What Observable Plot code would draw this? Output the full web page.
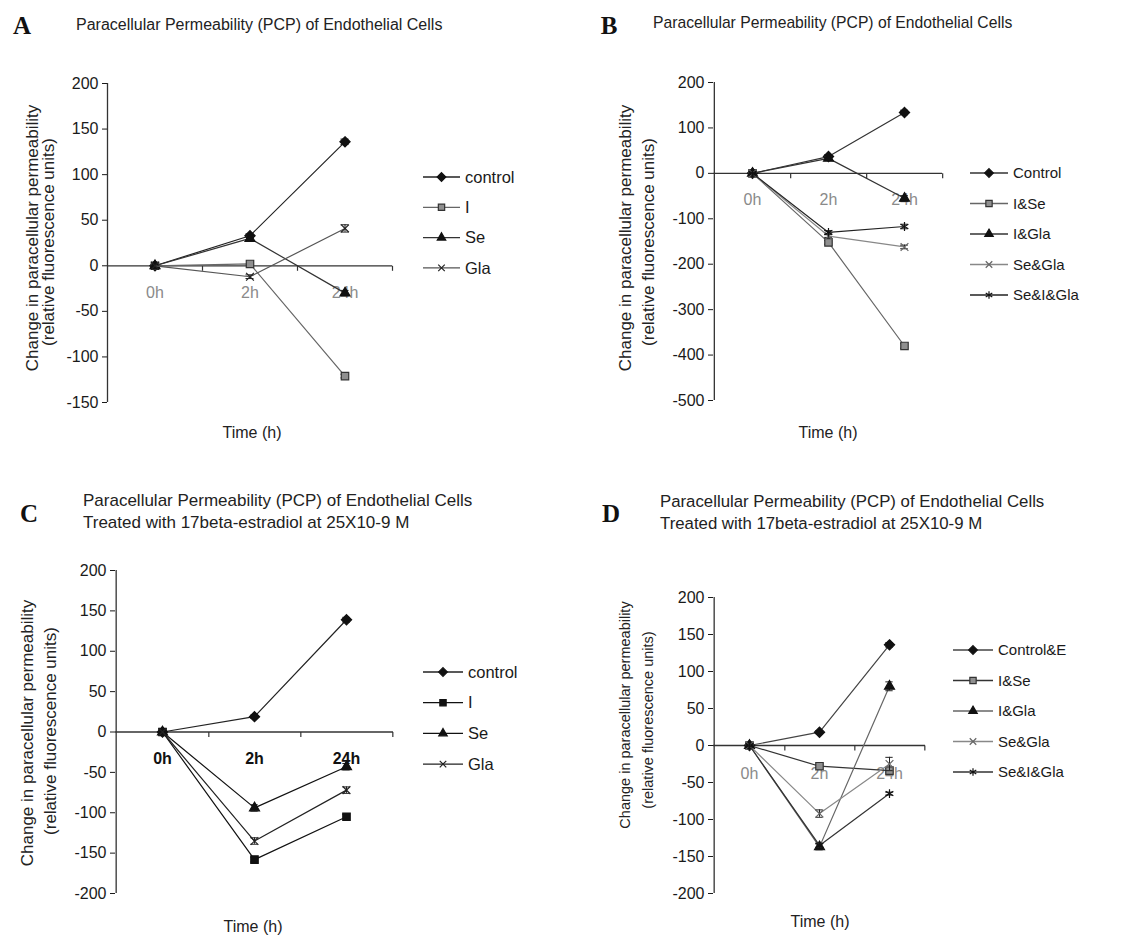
<!DOCTYPE html>
<html><head><meta charset="utf-8">
<script src="https://cdn.jsdelivr.net/npm/d3@7"></script>
<script src="https://cdn.jsdelivr.net/npm/@observablehq/plot@0.6"></script>
<style>
body{margin:0;background:#fff;font-family:"Liberation Sans",Arial,sans-serif;color:#222;}
#page{position:relative;width:1127px;height:935px;overflow:hidden;background:#fff;}
.abs{position:absolute;white-space:nowrap;line-height:1;}
.letter{font-family:"Liberation Serif","Times New Roman",serif;font-weight:bold;font-size:25px;color:#111;}
.cc{transform:translate(-50%,-50%);}
.lc{transform:translate(0,-50%);}
.rot{transform:translate(-50%,-50%) rotate(-90deg);}
</style></head>
<body><div id="page"></div>
<script>
// ---------- data ----------
const times = ["0h", "2h", "24h"];

// Panel A
const seriesA = ["control", "I", "Se", "Gla"];
const aControl = [0, 33, 136];
const aI = [0, 2, -121];
const aSe = [0, 30, -30];
const aGla = [0, -12, 41];
const errA = [[0, 2, 3], [0, 0, 2], [0, 2, 3], [0, 2, 4]];
const ticksA = [-150, -100, -50, 0, 50, 100, 150, 200];

// Panel B
const seriesB = ["Control", "I&Se", "I&Gla", "Se&Gla", "Se&I&Gla"];
const bControl = [0, 37, 134];
const bISe = [0, -152, -380];
const bIGla = [0, 33, -55];
const bSeGla = [0, -138, -162];
const bSeIGla = [0, -130, -117];
const errB = [[0, 4, 5], [0, 4, 5], [0, 4, 6], [0, 3, 4], [0, 4, 5]];
const ticksB = [-500, -400, -300, -200, -100, 0, 100, 200];

// Panel C
const seriesC = ["control", "I", "Se", "Gla"];
const cControl = [0, 19, 139];
const cI = [0, -158, -105];
const cSe = [0, -94, -43];
const cGla = [0, -135, -72];
const errC = [[0, 2, 3], [0, 3, 3], [0, 4, 4], [0, 4, 4]];
const ticksC = [-200, -150, -100, -50, 0, 50, 100, 150, 200];

// Panel D
const seriesD = ["Control&E", "I&Se", "I&Gla", "Se&Gla", "Se&I&Gla"];
const dControl = [0, 18, 136];
const dISe = [0, -28, -34];
const dIGla = [0, -137, 80];
const dSeGla = [0, -92, -25];
const dSeIGla = [0, -135, -65];
const errD = [[0, 2, 3], [0, 2, 3], [0, 4, 6], [0, 5, 9], [0, 3, 2]];
const ticksD = [-200, -150, -100, -50, 0, 50, 100, 150, 200];

const titleMain = "Paracellular Permeability (PCP) of Endothelial Cells";
const titleSub = "Treated with 17beta-estradiol at 25X10-9 M";
const yLabel1 = "Change in paracellular permeability";
const yLabel2 = "(relative fluorescence units)";
const xLabel = "Time (h)";

// ---------- styles ----------
const styleDiamond = {symbol: "diamond2", r: 4.6, fill: "#111", stroke: "#111"};
const styleSquareGray = {symbol: "square", r: 4.2, fill: "#8f8f8f", stroke: "#333"};
const styleSquareBlack = {symbol: "square", r: 4.2, fill: "#111", stroke: "#111"};
const styleTri = {symbol: "triangle", r: 3.7, fill: "#111", stroke: "#111"};
const styleTimes = {symbol: "times", r: 3.6, fill: "none", stroke: "#222"};
const styleTimesGray = {symbol: "times", r: 3.6, fill: "none", stroke: "#666"};
const styleStar = {symbol: "asterisk", r: 4.2, fill: "none", stroke: "#111"};

const symbolMap = {
  diamond2: d3.symbolDiamond2, square: d3.symbolSquare, triangle: d3.symbolTriangle,
  times: d3.symbolTimes, asterisk: d3.symbolAsterisk
};

const panels = [
  {letter: "A", letterPos: [22, 25], title: [titleMain], titlePos: [76, 25], titleSize: 16,
   series: seriesA, values: [aControl, aI, aSe, aGla], errs: errA, ticks: ticksA,
   lineColors: ["#222", "#666", "#333", "#555"],
   marks: [styleDiamond, styleSquareGray, styleTri, styleTimes],
   rect: [107, 392, 83, 402], xLabelColor: "#8a8a8a", xLabelWeight: "normal", xdy: 27,
   yl: [[32, 238], [48, 242]], ylSize: 17, time: [252, 433],
   legend: {x: 423, y: 177, sp: 30.3, len: 37, size: 16.5}},
  {letter: "B", letterPos: [609, 25], title: [titleMain], titlePos: [653, 23], titleSize: 15.7,
   series: seriesB, values: [bControl, bISe, bIGla, bSeGla, bSeIGla], errs: errB, ticks: ticksB,
   lineColors: ["#333", "#666", "#333", "#888", "#222"],
   marks: [styleDiamond, styleSquareGray, styleTri, styleTimesGray, styleStar],
   rect: [713, 942, 82, 400], xLabelColor: "#8a8a8a", xLabelWeight: "normal", xdy: 27,
   yl: [[625, 238], [648, 242]], ylSize: 17, time: [828, 433],
   legend: {x: 970, y: 173, sp: 30.5, len: 38, size: 15}},
  {letter: "C", letterPos: [29, 513], title: [titleMain, titleSub], titlePos: [83, 500], titleSize: 17,
   series: seriesC, values: [cControl, cI, cSe, cGla], errs: errC, ticks: ticksC,
   lineColors: ["#222", "#111", "#111", "#222"],
   marks: [styleDiamond, styleSquareBlack, styleTri, styleTimes],
   rect: [115, 393, 570, 893], xLabelColor: "#111", xLabelWeight: "bold", xdy: 27,
   yl: [[27, 733], [50, 731]], ylSize: 17, time: [253, 927],
   legend: {x: 423, y: 672, sp: 30.7, len: 40, size: 16.5}},
  {letter: "D", letterPos: [611, 513], title: [titleMain, titleSub], titlePos: [660, 502], titleSize: 16.8,
   series: seriesD, values: [dControl, dISe, dIGla, dSeGla, dSeIGla], errs: errD, ticks: ticksD,
   lineColors: ["#444", "#333", "#666", "#888", "#333"],
   marks: [styleDiamond, styleSquareGray, styleTri, styleTimesGray, styleStar],
   rect: [713, 925, 597, 893], xLabelColor: "#8a8a8a", xLabelWeight: "normal", xdy: 28,
   yl: [[625, 715], [648, 720]], ylSize: 14.5, time: [820, 922],
   legend: {x: 953, y: 650, sp: 30.5, len: 40, size: 15}}
];

const page = document.getElementById("page");
function addDiv(text, cls, x, y, css) {
  const d = document.createElement("div");
  d.className = "abs " + cls;
  d.textContent = text;
  d.style.left = x + "px";
  d.style.top = y + "px";
  Object.assign(d.style, css || {});
  page.appendChild(d);
  return d;
}

// custom symbol: small downward tick
const tickDown = {draw(ctx, size) { const l = Math.sqrt(size / Math.PI); ctx.moveTo(0, 0); ctx.lineTo(0, l); }};

for (const p of panels) {
  const [x0, x1, y0, y1] = p.rect;
  const mL = 60, mR = 12, mT = 12, mB = 45;
  const W = x1 - x0 + mL + mR, H = y1 - y0 + mT + mB;
  const bw = (x1 - x0) / times.length;
  const yMin = d3.min(p.ticks), yMax = d3.max(p.ticks);
  const marks = [
    Plot.ruleX([times[0]], {dx: -bw / 2, y1: yMin, y2: yMax, stroke: "#333", strokeWidth: 1.3}),
    Plot.ruleY([0], {stroke: "#333", strokeWidth: 1.3}),
    Plot.dot(times, {x: d => d, y: () => 0, dx: bw / 2, symbol: tickDown, r: 5, fill: "none", stroke: "#333", strokeWidth: 1.2}),
    Plot.text(times, {x: d => d, y: () => 0, dy: p.xdy, text: d => d, fill: p.xLabelColor, fontSize: 16, fontWeight: p.xLabelWeight})
  ];
  p.series.forEach((s, i) => {
    const rows = p.values[i].map((v, j) => ({time: times[j], value: v, err: p.errs[i][j]}));
    const withErr = rows.filter(r => r.err > 0);
    const m = p.marks[i];
    marks.push(Plot.line(rows, {x: "time", y: "value", stroke: p.lineColors[i], strokeWidth: 1.2}));
    marks.push(Plot.ruleX(withErr, {x: "time", y1: r => r.value - r.err, y2: r => r.value + r.err, stroke: "#222"}));
    marks.push(Plot.tickY(withErr, {x: "time", y: r => r.value + r.err, insetLeft: bw / 2 - 4, insetRight: bw / 2 - 4, stroke: "#222"}));
    marks.push(Plot.tickY(withErr, {x: "time", y: r => r.value - r.err, insetLeft: bw / 2 - 4, insetRight: bw / 2 - 4, stroke: "#222"}));
    marks.push(Plot.dot(rows, {x: "time", y: "value", symbol: m.symbol, r: m.r, fill: m.fill, stroke: m.stroke, strokeWidth: 1.2}));
  });
  const chart = Plot.plot({
    width: W, height: H, marginLeft: mL, marginRight: mR, marginTop: mT, marginBottom: mB,
    style: {fontFamily: "'Liberation Sans', Arial, sans-serif", fontSize: "16px", color: "#1a1a1a", background: "transparent", overflow: "visible"},
    x: {type: "band", domain: times, padding: 0, axis: null},
    y: {domain: [yMin, yMax], ticks: p.ticks, tickSize: 5, tickPadding: 4, tickFormat: d => String(d), label: null},
    marks
  });
  chart.style.position = "absolute";
  chart.style.left = (x0 - mL) + "px";
  chart.style.top = (y0 - mT) + "px";
  page.appendChild(chart);

  // texts
  addDiv(p.letter, "letter cc", p.letterPos[0], p.letterPos[1]);
  p.title.forEach((t, k) => addDiv(t, "lc", p.titlePos[0], p.titlePos[1] + k * 22, {fontSize: p.titleSize + "px"}));
  addDiv(yLabel1, "rot", p.yl[0][0], p.yl[0][1], {fontSize: p.ylSize + "px"});
  addDiv(yLabel2, "rot", p.yl[1][0], p.yl[1][1], {fontSize: p.ylSize + "px"});
  addDiv(xLabel, "cc", p.time[0], p.time[1], {fontSize: "16px"});

  // legend
  const L = p.legend;
  const lh = p.series.length * L.sp + 10;
  const svg = d3.create("svg").attr("width", 170).attr("height", lh)
    .style("position", "absolute").style("left", L.x + "px").style("top", (L.y - 10) + "px").style("overflow", "visible");
  p.series.forEach((s, i) => {
    const y = 10 + i * L.sp;
    const m = p.marks[i];
    const rl = m.r * 0.85;
    svg.append("line").attr("x1", 0).attr("x2", L.len).attr("y1", y).attr("y2", y)
      .attr("stroke", p.lineColors[i]).attr("stroke-width", 1.3);
    svg.append("path").attr("d", d3.symbol(symbolMap[m.symbol], Math.PI * rl * rl)())
      .attr("transform", `translate(${L.len / 2},${y})`)
      .attr("fill", m.fill).attr("stroke", m.stroke).attr("stroke-width", 1.2);
    svg.append("text").attr("x", L.len + 5).attr("y", y).attr("dy", "0.35em")
      .attr("font-size", L.size).attr("font-family", "'Liberation Sans', Arial, sans-serif")
      .attr("fill", "#1a1a1a").text(s);
  });
  page.appendChild(svg.node());
}
</script>
</body></html>
